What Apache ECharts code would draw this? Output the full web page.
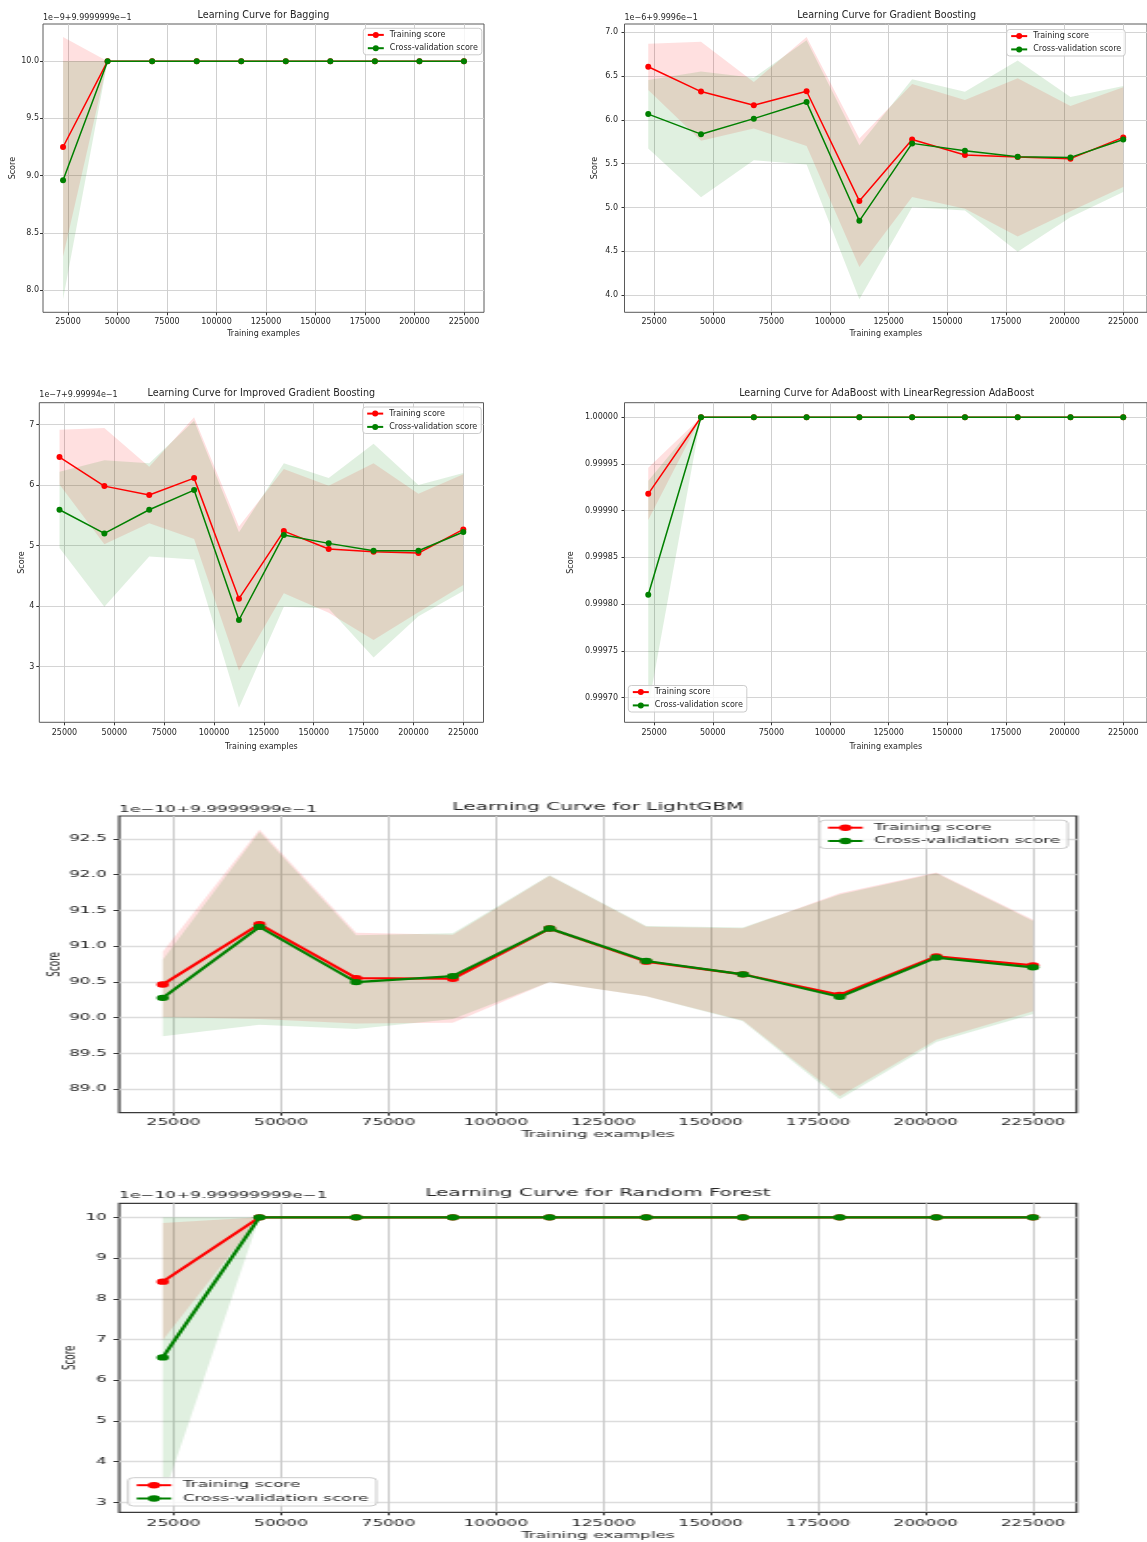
<!DOCTYPE html>
<html>
<head>
<meta charset="utf-8">
<title>Learning curves</title>
<script src="https://cdn.jsdelivr.net/npm/echarts@6/dist/echarts.min.js"></script>
<style>
  html, body { margin: 0; padding: 0; background: #ffffff; overflow: hidden; }
  #upper { position: absolute; left: 0; top: 0; width: 1147px; height: 775px; }
  /* the two wide panels are drawn narrow and stretched sideways */
  #lower { position: absolute; left: 0; top: 775px; width: 597.4px; height: 767px;
           transform: scaleX(1.92); transform-origin: 0 0; }
</style>
</head>
<body>
<div id="upper"></div>
<div id="lower"></div>
<script>
// ---- training set sizes and axis ticks ----
const trainSizes = [22500, 45000, 67500, 90000, 112500, 135000, 157500, 180000, 202500, 225000];
const xTicks = [25000, 50000, 75000, 100000, 125000, 150000, 175000, 200000, 225000];

// ---- Bagging (offset 1e-9 + 9.9999999e-1) ----
const baggingTrain     = [9.25, 10, 10, 10, 10, 10, 10, 10, 10, 10];
const baggingTrainLow  = [8.29, 10, 10, 10, 10, 10, 10, 10, 10, 10];
const baggingTrainHigh = [10.21, 10, 10, 10, 10, 10, 10, 10, 10, 10];
const baggingCv        = [8.96, 10, 10, 10, 10, 10, 10, 10, 10, 10];
const baggingCvLow     = [7.92, 10, 10, 10, 10, 10, 10, 10, 10, 10];
const baggingCvHigh    = [10.0, 10, 10, 10, 10, 10, 10, 10, 10, 10];
const baggingYTicks    = [8.0, 8.5, 9.0, 9.5, 10.0];

// ---- Gradient Boosting (offset 1e-6 + 9.9996e-1) ----
const gbTrain     = [6.605, 6.322, 6.165, 6.325, 5.075, 5.775, 5.598, 5.576, 5.557, 5.799];
const gbTrainLow  = [6.34, 5.76, 5.90, 5.70, 4.32, 5.12, 4.985, 4.668, 4.958, 5.233];
const gbTrainHigh = [6.866, 6.889, 6.43, 6.943, 5.786, 6.408, 6.225, 6.473, 6.156, 6.37];
const gbCv        = [6.065, 5.836, 6.013, 6.202, 4.848, 5.731, 5.647, 5.578, 5.571, 5.776];
const gbCvLow     = [5.672, 5.118, 5.538, 5.49, 3.954, 5.004, 4.966, 4.496, 4.889, 5.176];
const gbCvHigh    = [6.454, 6.55, 6.48, 6.906, 5.71, 6.462, 6.321, 6.676, 6.26, 6.385];
const gbYTicks    = [4.0, 4.5, 5.0, 5.5, 6.0, 6.5, 7.0];

// ---- Improved Gradient Boosting (offset 1e-7 + 9.99994e-1) ----
const igbTrain     = [6.461, 5.982, 5.834, 6.114, 4.122, 5.239, 4.942, 4.898, 4.876, 5.267];
const igbTrainLow  = [6.01, 5.02, 5.37, 5.11, 2.93, 4.21, 3.89, 3.44, 3.90, 4.35];
const igbTrainHigh = [6.912, 6.94, 6.30, 7.12, 5.316, 6.263, 5.99, 6.36, 5.856, 6.18];
const igbCv        = [5.591, 5.201, 5.591, 5.916, 3.770, 5.173, 5.036, 4.915, 4.915, 5.223];
const igbCvLow     = [4.959, 3.99, 4.82, 4.77, 2.32, 3.99, 3.96, 3.15, 3.83, 4.25];
const igbCvHigh    = [6.22, 6.41, 6.36, 7.06, 5.22, 6.36, 6.114, 6.68, 6.0, 6.197];
const igbYTicks    = [3, 4, 5, 6, 7];

// ---- AdaBoost with LinearRegression ----
const adaTrain     = [0.999918, 1, 1, 1, 1, 1, 1, 1, 1, 1];
const adaTrainLow  = [0.99989, 1, 1, 1, 1, 1, 1, 1, 1, 1];
const adaTrainHigh = [0.999946, 1, 1, 1, 1, 1, 1, 1, 1, 1];
const adaCv        = [0.99981, 1, 1, 1, 1, 1, 1, 1, 1, 1];
const adaCvLow     = [0.999689, 1, 1, 1, 1, 1, 1, 1, 1, 1];
const adaCvHigh    = [0.999932, 1, 1, 1, 1, 1, 1, 1, 1, 1];
const adaYTicks    = [0.99970, 0.99975, 0.99980, 0.99985, 0.99990, 0.99995, 1.00000];

// ---- LightGBM (offset 1e-10 + 9.9999999e-1) ----
const lgbTrain     = [90.464, 91.307, 90.553, 90.544, 91.246, 90.783, 90.605, 90.319, 90.857, 90.731];
const lgbTrainLow  = [90.01, 89.98, 89.92, 89.93, 90.50, 90.30, 89.96, 88.90, 89.69, 90.09];
const lgbTrainHigh = [90.92, 92.63, 91.185, 91.16, 91.985, 91.27, 91.25, 91.74, 92.03, 91.37];
const lgbCv        = [90.277, 91.269, 90.497, 90.581, 91.246, 90.792, 90.605, 90.291, 90.839, 90.703];
const lgbCvLow     = [89.74, 89.90, 89.84, 89.98, 90.50, 90.30, 89.95, 88.86, 89.66, 90.05];
const lgbCvHigh    = [90.81, 92.60, 91.15, 91.18, 91.99, 91.28, 91.26, 91.72, 92.02, 91.35];
const lgbYTicks    = [89.0, 89.5, 90.0, 90.5, 91.0, 91.5, 92.0, 92.5];

// ---- Random Forest (offset 1e-10 + 9.99999999e-1) ----
const rfTrain     = [8.42, 10, 10, 10, 10, 10, 10, 10, 10, 10];
const rfTrainLow  = [6.98, 10, 10, 10, 10, 10, 10, 10, 10, 10];
const rfTrainHigh = [9.86, 10, 10, 10, 10, 10, 10, 10, 10, 10];
const rfCv        = [6.56, 10, 10, 10, 10, 10, 10, 10, 10, 10];
const rfCvLow     = [3.10, 10, 10, 10, 10, 10, 10, 10, 10, 10];
const rfCvHigh    = [10.0, 10, 10, 10, 10, 10, 10, 10, 10, 10];
const rfYTicks    = [3, 4, 5, 6, 7, 8, 9, 10];

// ---- panels ----
const upperPanels = [
  { title: 'Learning Curve for Bagging', offset: '1e\u22129+9.9999999e\u22121', digits: 1,
    train: baggingTrain, trainLow: baggingTrainLow, trainHigh: baggingTrainHigh,
    cv: baggingCv, cvLow: baggingCvLow, cvHigh: baggingCvHigh, yTicks: baggingYTicks },
  { title: 'Learning Curve for Gradient Boosting', offset: '1e\u22126+9.9996e\u22121', digits: 1,
    train: gbTrain, trainLow: gbTrainLow, trainHigh: gbTrainHigh,
    cv: gbCv, cvLow: gbCvLow, cvHigh: gbCvHigh, yTicks: gbYTicks },
  { title: 'Learning Curve for Improved Gradient Boosting', offset: '1e\u22127+9.99994e\u22121', digits: 0,
    train: igbTrain, trainLow: igbTrainLow, trainHigh: igbTrainHigh,
    cv: igbCv, cvLow: igbCvLow, cvHigh: igbCvHigh, yTicks: igbYTicks },
  { title: 'Learning Curve for AdaBoost with LinearRegression AdaBoost', offset: '', digits: 5,
    train: adaTrain, trainLow: adaTrainLow, trainHigh: adaTrainHigh,
    cv: adaCv, cvLow: adaCvLow, cvHigh: adaCvHigh, yTicks: adaYTicks }
];
const lowerPanels = [
  { title: 'Learning Curve for LightGBM', offset: '1e\u221210+9.9999999e\u22121', digits: 1,
    train: lgbTrain, trainLow: lgbTrainLow, trainHigh: lgbTrainHigh,
    cv: lgbCv, cvLow: lgbCvLow, cvHigh: lgbCvHigh, yTicks: lgbYTicks },
  { title: 'Learning Curve for Random Forest', offset: '1e\u221210+9.99999999e\u22121', digits: 0,
    train: rfTrain, trainLow: rfTrainLow, trainHigh: rfTrainHigh,
    cv: rfCv, cvLow: rfCvLow, cvHigh: rfCvHigh, yTicks: rfYTicks }
];

// plot-area placement of each panel
const upperLayout = [
  { left: 43,    top: 24,    width: 441,   height: 288.3, titleY: 15,    offsetY: 18.3,
    legend: { left: 363.3, top: 28.3 }, yNameX: 12.7,  xNameY: 334.3, xMargin: 5.5, yMargin: 4 },
  { left: 624.5, top: 24,    width: 524.3, height: 288.3, titleY: 15,    offsetY: 18.3,
    legend: { left: 1006.7, top: 29.5 }, yNameX: 594.8, xNameY: 334.3, xMargin: 5.5, yMargin: 6.5 },
  { left: 39.3,  top: 402.7, width: 444.2, height: 319.6, titleY: 393.3, offsetY: 396,
    legend: { left: 362.7, top: 407 }, yNameX: 22,    xNameY: 746.7, xMargin: 6.3, yMargin: 5 },
  { left: 624.5, top: 402.7, width: 524.3, height: 319.6, titleY: 393.3, offsetY: 396,
    legend: { left: 628.3, top: 685.5 }, yNameX: 571.2, xNameY: 746.7, xMargin: 6.3, yMargin: 6.5 }
];
const lowerLayout = [
  { left: 62.1, top: 41,    width: 498.6, height: 296.7, titleY: 32.3,  offsetY: 35,
    legend: { left: 426.8, top: 45.2 }, yNameX: 28.3, xNameY: 359.3, xMargin: 5.2, yMargin: 6.5 },
  { left: 62.1, top: 428.3, width: 498.6, height: 309,   titleY: 418.3, offsetY: 421.7,
    legend: { left: 66.7, top: 702.7 }, yNameX: 36.7, xNameY: 760.7, xMargin: 6.6, yMargin: 6.5 }
];

const FONT = 'DejaVu Sans';
const TEXT = '#262626';
const RED = '#ff0000', GREEN = '#008000';
const RED_FILL = 'rgba(255,0,0,0.12)', GREEN_FILL = 'rgba(0,128,0,0.12)';

// matplotlib-style autoscale: data extent plus 5% on each side
function paddedExtent(arrays) {
  let lo = Infinity, hi = -Infinity;
  arrays.forEach(a => a.forEach(v => { lo = Math.min(lo, v); hi = Math.max(hi, v); }));
  const m = (hi - lo) * 0.05;
  return [lo - m, hi + m];
}

function bandSeries(idx, low, high, fill) {
  return {
    type: 'custom', xAxisIndex: idx, yAxisIndex: idx, silent: true, z: 1,
    data: [[trainSizes[0], low[0]]],
    renderItem: function (params, api) {
      const pts = [];
      for (let i = 0; i < trainSizes.length; i++) pts.push(api.coord([trainSizes[i], high[i]]));
      for (let i = trainSizes.length - 1; i >= 0; i--) pts.push(api.coord([trainSizes[i], low[i]]));
      return { type: 'polygon', shape: { points: pts }, style: { fill: fill } };
    }
  };
}

function curveSeries(idx, name, values, color, style, z) {
  return {
    type: 'line', name: name, xAxisIndex: idx, yAxisIndex: idx, z: z,
    data: trainSizes.map((x, i) => [x, values[i]]),
    symbol: 'circle', symbolSize: style.symbol, showSymbol: true,
    lineStyle: { color: color, width: style.line }, itemStyle: { color: color },
    emphasis: { disabled: true }
  };
}

function buildOption(panels, layout, st) {
  const opt = {
    animation: false, backgroundColor: '#ffffff',
    grid: [], xAxis: [], yAxis: [], series: [], title: [], legend: [], graphic: []
  };
  panels.forEach((p, i) => {
    const L = layout[i];
    opt.grid.push({ left: L.left, top: L.top, width: L.width, height: L.height,
      show: true, borderColor: st.border, borderWidth: st.borderWidth, backgroundColor: 'transparent' });
    const xr = paddedExtent([trainSizes]);
    const yr = paddedExtent([p.train, p.trainLow, p.trainHigh, p.cv, p.cvLow, p.cvHigh]);
    opt.xAxis.push({
      type: 'value', gridIndex: i, min: xr[0], max: xr[1],
      name: 'Training examples', nameLocation: 'middle', nameMoveOverlap: false,
      nameGap: L.xNameY - (L.top + L.height) - st.label * 0.5,
      nameTextStyle: { fontFamily: FONT, fontSize: st.label, color: TEXT, lineHeight: st.label },
      axisLine: { show: false },
      axisTick: { show: true, customValues: xTicks, length: 3, lineStyle: { color: '#333333' } },
      axisLabel: { customValues: xTicks, margin: L.xMargin, fontFamily: FONT, fontSize: st.tick, color: TEXT,
        formatter: v => String(Math.round(v)) },
      splitLine: { show: true, lineStyle: { color: st.vGrid, width: st.vGridWidth } }
    });
    opt.yAxis.push({
      type: 'value', gridIndex: i, min: yr[0], max: yr[1],
      name: 'Score', nameLocation: 'middle', nameMoveOverlap: false,
      nameGap: L.left - L.yNameX - st.label * 0.5,
      nameTextStyle: { fontFamily: FONT, fontSize: st.label, color: TEXT, lineHeight: st.label },
      axisLine: { show: false },
      axisTick: { show: true, customValues: p.yTicks, length: 3, lineStyle: { color: '#333333' } },
      axisLabel: { customValues: p.yTicks, margin: L.yMargin, fontFamily: FONT, fontSize: st.tick, color: TEXT,
        formatter: v => Number(v).toFixed(p.digits) },
      splitLine: { show: true, lineStyle: { color: st.hGrid, width: st.hGridWidth } }
    });
    opt.series.push(bandSeries(i, p.trainLow, p.trainHigh, RED_FILL));
    opt.series.push(bandSeries(i, p.cvLow, p.cvHigh, GREEN_FILL));
    opt.series.push(curveSeries(i, 'Training score', p.train, RED, st, 2));
    opt.series.push(curveSeries(i, 'Cross-validation score', p.cv, GREEN, st, 3));
    opt.title.push({
      text: p.title, left: L.left + L.width / 2, top: L.titleY - (st.title + 2) / 2,
      textAlign: 'center', padding: 0,
      textStyle: { fontFamily: FONT, fontSize: st.title, fontWeight: 'normal', color: TEXT, lineHeight: st.title + 2 }
    });
    opt.legend.push({
      data: ['Training score', 'Cross-validation score'], orient: 'vertical',
      left: L.legend.left, top: L.legend.top, padding: [st.legPadV, 4, st.legPadV, 3.5],
      itemWidth: st.handle, itemHeight: st.symbol / 0.8, itemGap: st.legGap,
      backgroundColor: 'rgba(255,255,255,0.8)', borderColor: '#cccccc', borderWidth: 1, borderRadius: 3,
      selectedMode: false,
      textStyle: { fontFamily: FONT, fontSize: st.legend, color: TEXT, lineHeight: st.legend + 1.2, padding: [0, 0, 0, 1] }
    });
    if (p.offset) {
      opt.graphic.push({
        type: 'text', left: L.left, top: L.offsetY - st.tick * 0.6,
        style: { text: p.offset, font: st.tick + 'px "' + FONT + '"', fill: TEXT }
      });
    }
  });
  return opt;
}

const upperStyle = { tick: 8, label: 8, title: 9.6, legend: 8, symbol: 6, line: 1.5, handle: 16,
  legGap: 4.1, legPadV: 2, border: '#5a5a5a', borderWidth: 1,
  vGrid: '#cfcfcf', vGridWidth: 1, hGrid: '#d4d4d4', hGridWidth: 1 };
const lowerStyle = { tick: 8.8, label: 8.8, title: 10.5, legend: 8.8, symbol: 6.4, line: 2.1, handle: 18,
  legGap: 3.3, legPadV: 2.5, border: '#3a3a3a', borderWidth: 1.2,
  vGrid: '#cbcbcb', vGridWidth: 1, hGrid: '#dcdcdc', hGridWidth: 1.3 };

const upperChart = echarts.init(document.getElementById('upper'));
upperChart.setOption(buildOption(upperPanels, upperLayout, upperStyle));
const lowerChart = echarts.init(document.getElementById('lower'));
lowerChart.setOption(buildOption(lowerPanels, lowerLayout, lowerStyle));
</script>
</body>
</html>
